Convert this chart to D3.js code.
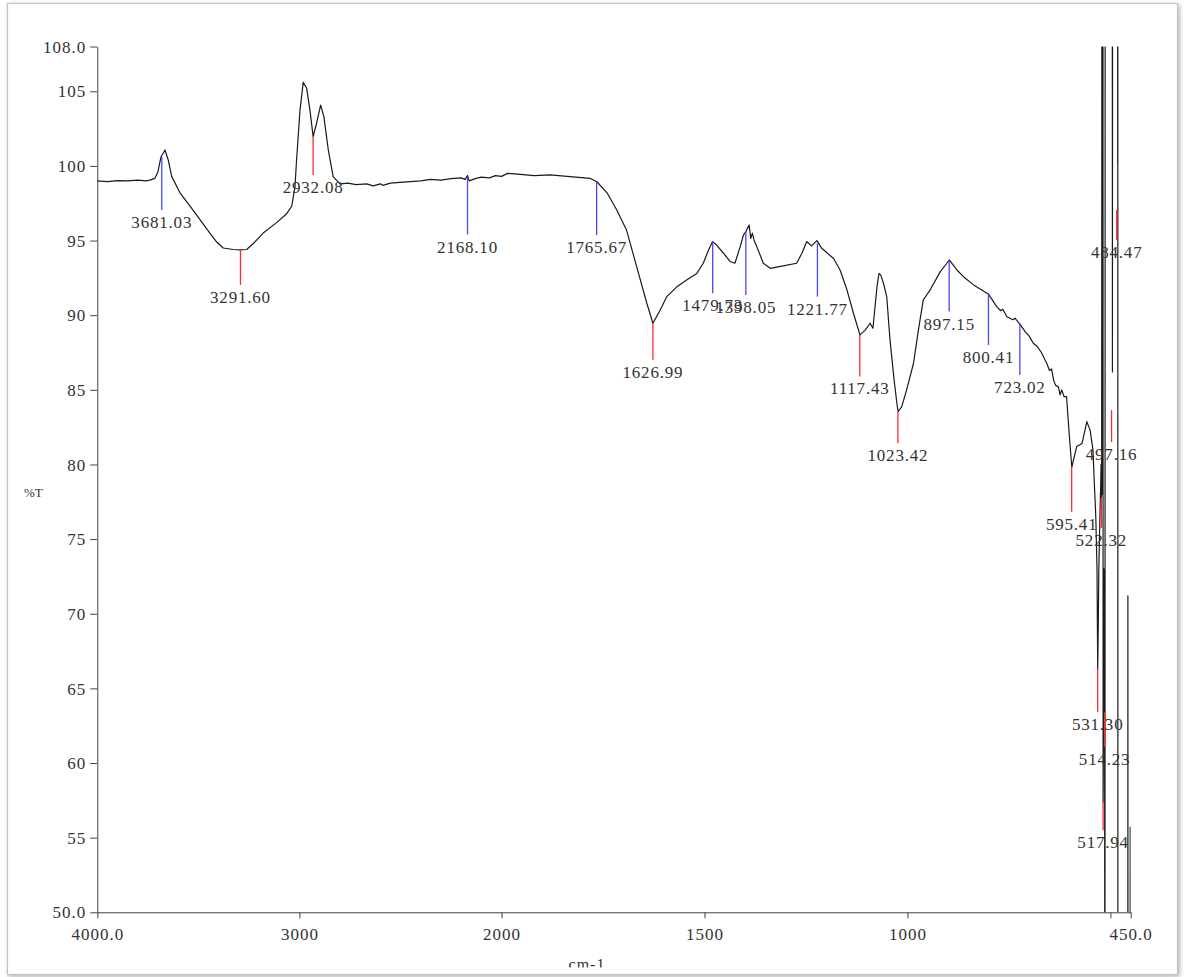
<!DOCTYPE html>
<html>
<head>
<meta charset="utf-8">
<script src="https://cdn.jsdelivr.net/npm/d3@7"></script>
<style>
  html, body { margin: 0; padding: 0; background: #fff; }
  svg { display: block; }
  text { font-family: "Liberation Serif", "Times New Roman", serif; fill: #333; }
</style>
</head>
<body>
<svg id="chart" width="1188" height="977"></svg>
<script>
// ---- Data ----
const wavenumbers = [
  4000, 3950, 3900, 3850, 3800, 3760, 3740, 3715, 3700, 3685, 3665, 3649, 3632, 3591, 3541, 3492, 3443, 3409, 3377, 3327,
  3294, 3261, 3228, 3179, 3113, 3063, 3038, 3022, 3014, 2997, 2981, 2964, 2948, 2932, 2915, 2895, 2879, 2857, 2833, 2799,
  2760, 2720, 2667, 2635, 2600, 2587, 2550, 2503, 2450, 2400, 2350, 2300, 2250, 2200, 2180, 2168, 2160, 2130, 2100, 2060,
  2030, 2000, 1985, 1960, 1920, 1880, 1831, 1782, 1765, 1740, 1716, 1692, 1667, 1642, 1627, 1609, 1593, 1568, 1544, 1519,
  1503, 1490, 1480, 1470, 1453, 1437, 1425, 1412, 1404, 1398, 1390, 1386, 1382, 1378, 1371, 1355, 1338, 1306, 1273, 1260,
  1248, 1236, 1223, 1211, 1182, 1166, 1149, 1133, 1117, 1104, 1092, 1085, 1075, 1070, 1066, 1059, 1051, 1043, 1033, 1026,
  1023, 1020, 1014, 1002, 985, 973, 961, 944, 919, 903, 897, 878, 862, 837, 804, 800, 780, 770, 765, 755,
  740, 735, 723, 710, 700, 690, 680, 670, 657, 650, 645, 640, 635, 628, 624, 620, 614, 608, 601, 595,
  591, 583, 570, 558, 550, 543, 540, 536, 533, 532, 531.3,
  530, 528.5, 527, 525.5, 524, 523, 522.3, 521.5, 520.8, 520.2, 519.6, 519.0, 518.4, 517.94, 517, 516, 515, 514.23, 513.5, 512.8,
  495.5, 495, 494.5, 482.5, 482, 481.8, 481.5, 457.2, 456.9, 456.6, 451.4, 451.2, 451.0, 450
];
const transmittance = [
  99.00, 98.95, 99.02, 99.00, 99.05, 99.00, 99.05, 99.17, 99.6, 100.6, 101.07, 100.4, 99.3, 98.2, 97.3, 96.4, 95.5, 94.9, 94.5, 94.4,
  94.38, 94.4, 94.8, 95.5, 96.2, 96.8, 97.3, 98.6, 100.4, 103.75, 105.6, 105.2, 103.75, 101.96, 102.86, 104.08, 103.3, 101.07, 99.28, 98.8,
  98.85, 98.75, 98.8, 98.66, 98.8, 98.7, 98.85, 98.9, 98.95, 99.0, 99.1, 99.05, 99.15, 99.2, 99.1, 99.35, 99.0, 99.15, 99.25, 99.2,
  99.35, 99.3, 99.5, 99.45, 99.35, 99.4, 99.28, 99.17, 98.94, 98.2, 97.05, 95.7, 93.25, 90.8, 89.46, 90.35, 91.24, 91.9, 92.36, 92.8,
  93.48, 94.37, 94.93, 94.7, 94.15, 93.6, 93.48, 94.59, 95.37, 95.6, 96.04, 95.15, 95.5, 95.04, 94.59, 93.48, 93.14, 93.3, 93.48, 94.15,
  94.93, 94.64, 95.0, 94.48, 93.8, 93.03, 91.7, 90.13, 88.68, 89.0, 89.46, 89.13, 91.91, 92.8, 92.7, 92.14, 91.24, 88.36, 85.7, 84.1,
  83.54, 83.65, 83.87, 85.0, 86.78, 89.0, 91.02, 91.7, 92.92, 93.48, 93.7, 93.03, 92.58, 92.03, 91.47, 91.4, 90.57, 90.3, 90.4, 89.9,
  89.7, 89.8, 89.4, 88.9, 88.6, 88.12, 87.9, 87.5, 86.78, 86.3, 86.4, 85.66, 85.3, 85.2, 84.66, 85.0, 84.54, 84.54, 81.86, 79.8,
  80.3, 81.2, 81.4, 82.87, 82.3, 81.0, 79.0, 76.5, 73.0, 69.0, 66.3,
  69.0, 73.0, 75.0, 77.0, 78.5, 80.0, 77.8, 80.0, 130, 78.0, 130, 79.0, 130, 57.4, 63.0, 73.0, 70.0, 63.4, 20, 130,
  130, 86.2, 130, 130, 100.2, 130, 20, 20, 71.2, 20, 20, 55.7, 20, 20
];

// Peak markers
const markerWn    = [3681.03, 3291.60, 2932.08, 2168.10, 1765.67, 1626.99, 1479.73, 1398.05, 1221.77, 1117.43, 1023.42, 897.15, 800.41, 723.02, 595.41, 522.32, 531.30, 514.23, 517.94, 497.16, 484.47];
const markerLabel = ["3681.03","3291.60","2932.08","2168.10","1765.67","1626.99","1479.73","1398.05","1221.77","1117.43","1023.42","897.15","800.41","723.02","595.41","522.32","531.30","514.23","517.94","497.16","484.47"];
const markerKind  = ["max","min","min","max","max","min","max","max","max","min","min","max","max","max","min","min","min","min","min","min","min"];
const markerTop   = [100.6, 94.4, 101.96, 99.2, 98.94, 89.46, 94.93, 95.6, 94.82, 88.68, 83.54, 93.7, 91.47, 89.46, 79.75, 77.76, 66.3, 63.4, 57.4, 83.65, 97.05];
const markerEnd   = [97.05, 92.03, 99.4, 95.4, 95.37, 87.0, 91.47, 91.35, 91.24, 85.9, 81.42, 90.24, 88.0, 86.0, 76.84, 75.75, 63.4, 61.1, 55.5, 81.5, 95.04];

// Axis ticks
const xTickValues = [4000, 3000, 2000, 1500, 1000, 500, 450];
const xTickLabels = ["4000.0", "3000", "2000", "1500", "1000", "", "450.0"];
const yTickValues = [108, 105, 100, 95, 90, 85, 80, 75, 70, 65, 60, 55, 50];
const yTickLabels = ["108.0", "105", "100", "95", "90", "85", "80", "75", "70", "65", "60", "55", "50.0"];

(function () {
  const svg = d3.select("#chart");
  const pL = 97.3, pR = 1130.7, pT = 46.5, pB = 912.3;

  const x = d3.scaleLinear().domain([4000, 2000, 450]).range([pL, 501.5, pR]);
  const y = d3.scaleLinear().domain([50, 108]).range([pB, pT]);

  const defs = svg.append("defs");
  const f = defs.append("filter").attr("id", "shadow").attr("x", "-5%").attr("y", "-5%").attr("width", "110%").attr("height", "110%");
  f.append("feDropShadow").attr("dx", 1.5).attr("dy", 1.5).attr("stdDeviation", 2).attr("flood-color", "#777").attr("flood-opacity", 0.6);
  defs.append("clipPath").attr("id", "plotClip").append("rect")
    .attr("x", pL).attr("y", pT).attr("width", pR - pL).attr("height", pB - pT);
  defs.append("clipPath").attr("id", "frameClip").append("rect")
    .attr("x", 8).attr("y", 4).attr("width", 1169).attr("height", 963.5);

  // Frame
  svg.append("rect").attr("x", 7.5).attr("y", 3.5).attr("width", 1170).attr("height", 971)
    .attr("fill", "#fff").attr("stroke", "#c4c4c4").attr("stroke-width", 1.2).attr("filter", "url(#shadow)");

  // Axes
  const yAxis = d3.axisLeft(y).tickValues(yTickValues).tickSize(7).tickSizeOuter(0)
    .tickFormat((d, i) => yTickLabels[i]);
  const gy = svg.append("g").attr("transform", `translate(${pL},0)`).call(yAxis);
  gy.select(".domain").attr("stroke", "#444");
  gy.selectAll(".tick line").attr("stroke", "#444");
  gy.selectAll(".tick text").attr("x", -11).attr("dy", "0.33em")
    .style("font-size", "17px").style("font-family", "'Liberation Serif', serif").attr("fill", "#333").style("letter-spacing", "1px");

  const xAxis = d3.axisBottom(x).tickValues(xTickValues).tickSize(6).tickSizeOuter(0)
    .tickFormat((d, i) => xTickLabels[i]);
  const gx = svg.append("g").attr("transform", `translate(0,${pB})`).call(xAxis);
  gx.select(".domain").attr("stroke", "#444");
  gx.selectAll(".tick line").attr("stroke", "#444");
  gx.selectAll(".tick text").attr("y", 16).attr("dy", "0.71em")
    .style("font-size", "17px").style("font-family", "'Liberation Serif', serif").attr("fill", "#333").style("letter-spacing", "1px");

  // Axis titles
  svg.append("text").attr("x", 24).attr("y", 497).style("font-size", "13px").text("%T");
  svg.append("g").attr("clip-path", "url(#frameClip)")
    .append("text").attr("x", 587).attr("y", 970).attr("text-anchor", "middle")
    .style("font-size", "16px").style("letter-spacing", "1px").text("cm-1");

  // Spectrum
  const series = wavenumbers.map((w, i) => ({ w, t: transmittance[i] }));
  const line = d3.line().x(d => x(d.w)).y(d => y(d.t));
  svg.append("g").attr("clip-path", "url(#plotClip)")
    .append("path").datum(series)
    .attr("d", line).attr("fill", "none").attr("stroke", "#1a1a1a").attr("stroke-width", 1.2)
    .attr("stroke-linejoin", "round");

  // Peak markers
  const markers = markerWn.map((w, i) => ({ w, label: markerLabel[i], kind: markerKind[i], top: markerTop[i], end: markerEnd[i] }));
  const mg = svg.append("g");
  mg.selectAll("line").data(markers).join("line")
    .attr("x1", d => x(d.w)).attr("x2", d => x(d.w))
    .attr("y1", d => y(d.top)).attr("y2", d => y(d.end))
    .attr("stroke", d => d.kind === "max" ? "#4646ff" : "#ff2a2a").attr("stroke-width", 1.3);
  mg.selectAll("text").data(markers).join("text")
    .attr("x", d => x(d.w)).attr("y", d => y(d.end) + 18)
    .attr("text-anchor", "middle").style("font-size", "17px").style("letter-spacing", "0.8px")
    .text(d => d.label);
})();
</script>
</body>
</html>
